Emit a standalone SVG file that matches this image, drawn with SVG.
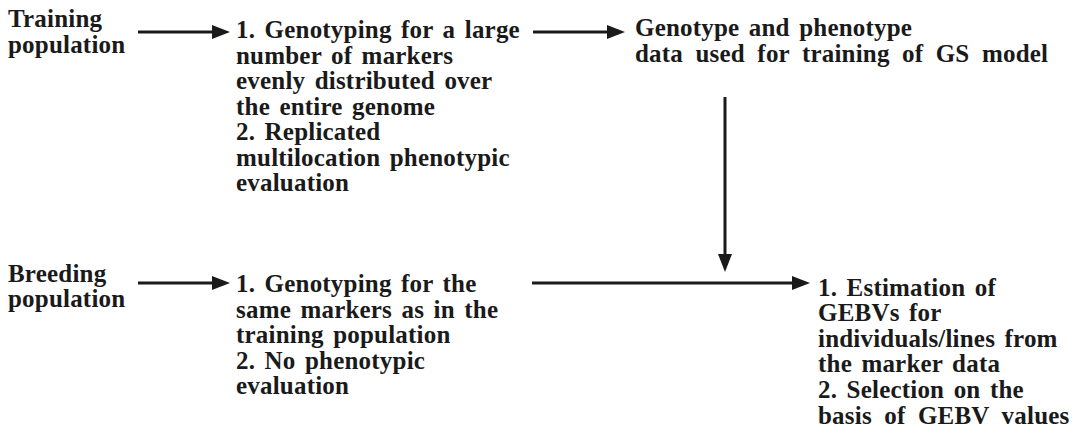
<svg xmlns="http://www.w3.org/2000/svg" width="1084" height="435" viewBox="0 0 1084 435">
  <style>
    text { font-family: "Liberation Serif", "Times New Roman", serif; font-weight: 700; font-size: 25px; letter-spacing: 0.2px; word-spacing: 3px; fill: #1a1a1a; }
    .wide { word-spacing: 6px; }
    .conn { stroke: #1a1a1a; stroke-width: 3; fill: none; marker-end: url(#arrow); }
  </style>
  <defs>
    <marker id="arrow" markerUnits="userSpaceOnUse" viewBox="0 0 18 14" refX="8" refY="7" markerWidth="18" markerHeight="14" orient="auto">
      <path d="M0,0 L18,7 L0,14 Z" fill="#1a1a1a"/>
    </marker>
  </defs>

  <!-- connectors: each line stops 10px short of its tip, the marker draws the head -->
  <g id="connectors">
    <path class="conn" d="M138,32 H220"/>
    <path class="conn" d="M533,32 H615"/>
    <path class="conn" d="M725,97 V262"/>
    <path class="conn" d="M138,283 H220"/>
    <path class="conn" d="M532,283 H800"/>
  </g>

  <g id="training-population">
    <text x="8" y="27">Training</text>
    <text x="8" y="53">population</text>
  </g>

  <g id="training-steps">
    <text x="236" y="38">1. Genotyping for a large</text>
    <text x="236" y="63.5">number of markers</text>
    <text x="236" y="89">evenly distributed over</text>
    <text x="236" y="114.5">the entire genome</text>
    <text x="236" y="140">2. Replicated</text>
    <text x="236" y="165.5">multilocation phenotypic</text>
    <text x="236" y="191">evaluation</text>
  </g>

  <g id="gs-model">
    <text x="635" y="36">Genotype and phenotype</text>
    <text x="635" y="62" class="wide">data used for training of GS model</text>
  </g>

  <g id="breeding-population">
    <text x="8" y="282">Breeding</text>
    <text x="8" y="307">population</text>
  </g>

  <g id="breeding-steps">
    <text x="236" y="292">1. Genotyping for the</text>
    <text x="236" y="318">same markers as in the</text>
    <text x="236" y="343">training population</text>
    <text x="236" y="369">2. No phenotypic</text>
    <text x="236" y="394">evaluation</text>
  </g>

  <g id="gebv-selection">
    <text x="818" y="296">1. Estimation of</text>
    <text x="818" y="321">GEBVs for</text>
    <text x="818" y="347">individuals/lines from</text>
    <text x="818" y="372">the marker data</text>
    <text x="818" y="398">2. Selection on the</text>
    <text x="818" y="424" class="wide">basis of GEBV values</text>
  </g>
</svg>
